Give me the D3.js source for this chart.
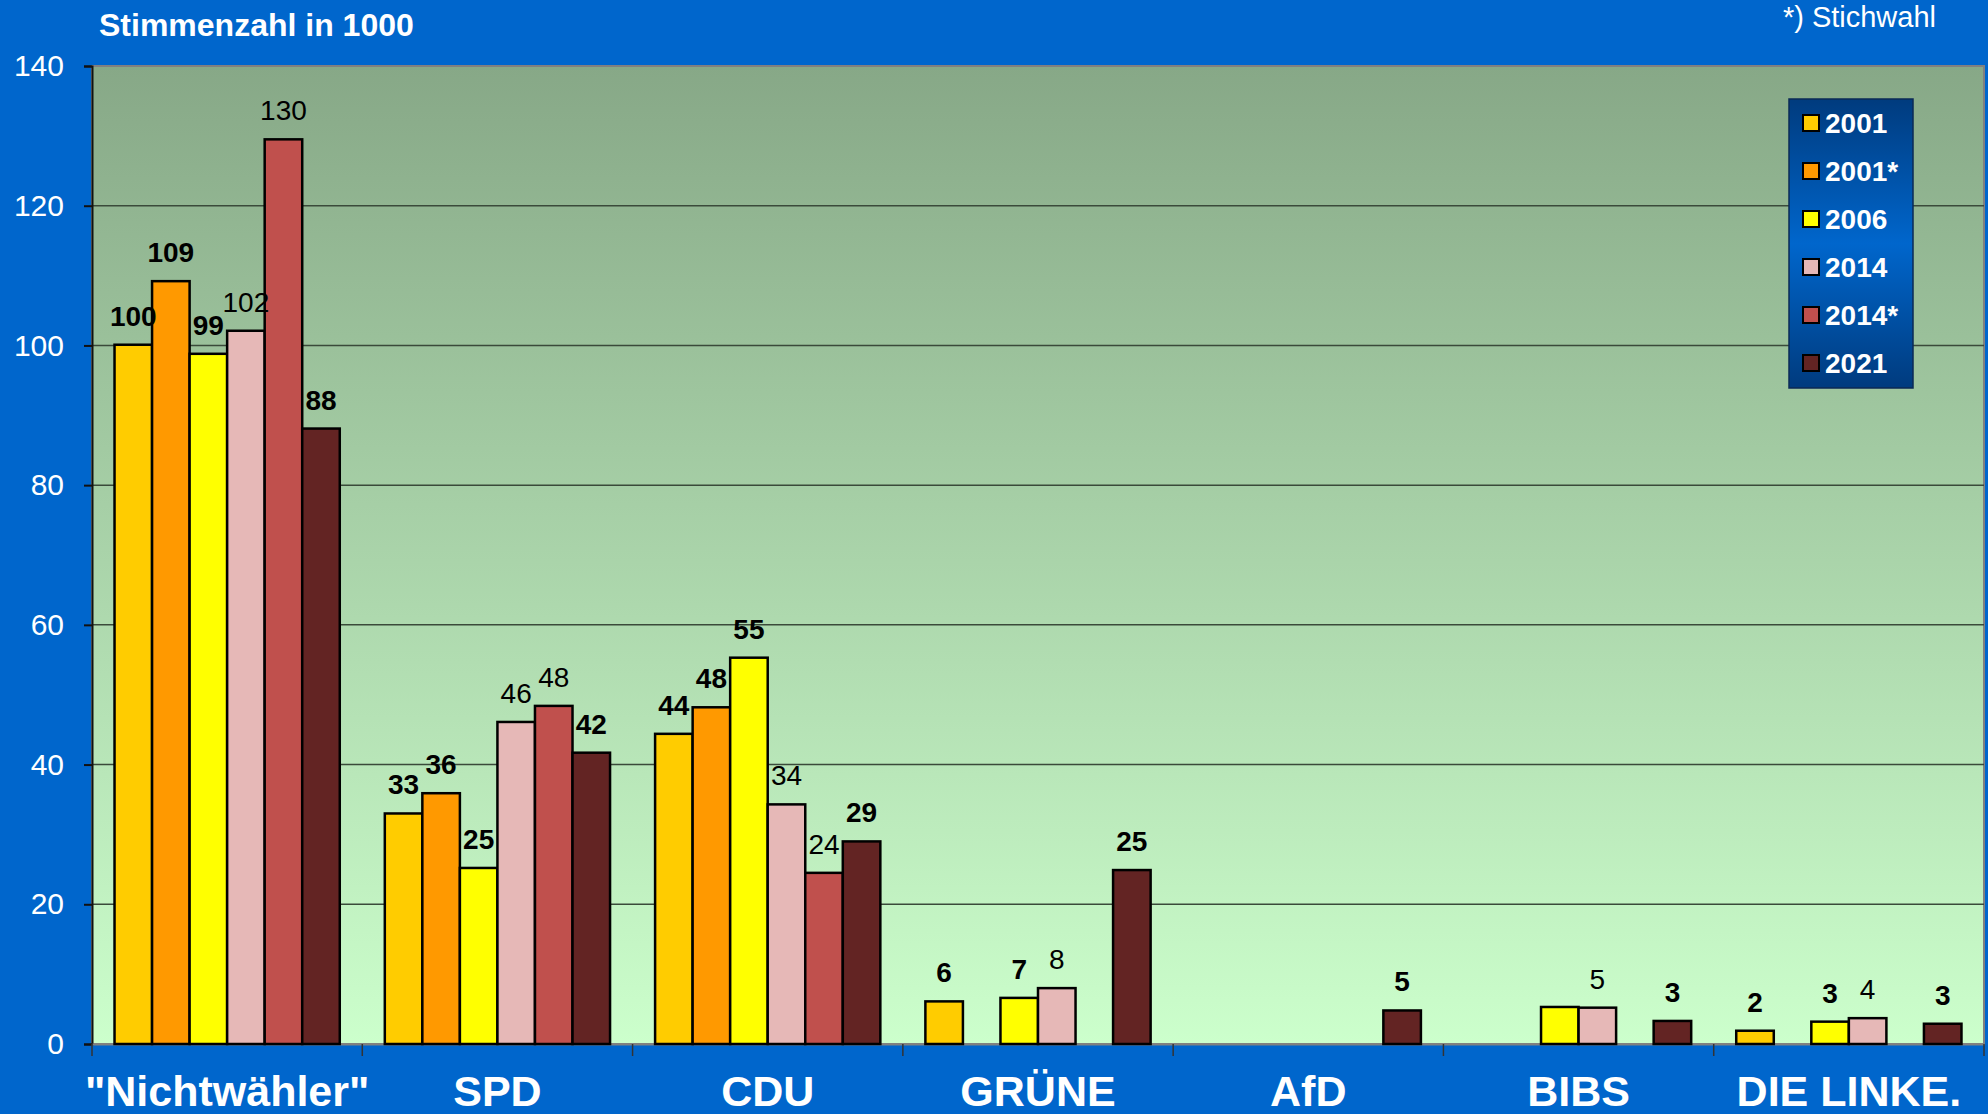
<!DOCTYPE html>
<html>
<head>
<meta charset="utf-8">
<script src="https://cdn.jsdelivr.net/npm/d3@7"></script>
<style>
  html, body { margin: 0; padding: 0; background: #0066cc; }
  svg { display: block; font-family: "Liberation Sans", Arial, sans-serif; }
</style>
</head>
<body>
<svg width="1988" height="1114"></svg>
<script>
var categories = ['"Nichtwähler"', "SPD", "CDU", "GRÜNE", "AfD", "BIBS", "DIE LINKE."];
var series = ["2001", "2001*", "2006", "2014", "2014*", "2021"];
var colors = ["#ffcc00", "#ff9900", "#ffff00", "#e6b8b7", "#c0504d", "#632423"];
var boldLabel = [true, true, true, false, false, true];

// Stimmen in 1000, null = nicht angetreten
var v2001  = [100.1, 33.0, 44.4, 6.1, null, null, 1.9];
var v2001s = [109.2, 35.9, 48.2, null, null, null, null];
var v2006  = [98.8, 25.2, 55.3, 6.6, null, 5.3, 3.2];
var v2014  = [102.1, 46.1, 34.3, 8.0, null, 5.2, 3.7];
var v2014s = [129.5, 48.4, 24.5, null, null, null, null];
var v2021  = [88.1, 41.7, 29.0, 24.9, 4.8, 3.3, 2.9];

var l2001  = ["100", "33", "44", "6", null, null, "2"];
var l2001s = ["109", "36", "48", null, null, null, null];
var l2006  = ["99", "25", "55", "7", null, null, "3"];
var l2014  = ["102", "46", "34", "8", null, "5", "4"];
var l2014s = ["130", "48", "24", null, null, null, null];
var l2021  = ["88", "42", "29", "25", "5", "3", "3"];

var yTicks = [0, 20, 40, 60, 80, 100, 120, 140];

var values = [v2001, v2001s, v2006, v2014, v2014s, v2021];
var labels = [l2001, l2001s, l2006, l2014, l2014s, l2021];

var svg = d3.select("svg");
var plotL = 92, plotR = 1984, plotT = 66, plotB = 1044;

var x0 = d3.scaleBand().domain(categories).range([plotL, plotR]).padding(0);
var x1 = d3.scaleBand().domain(series).range([0, x0.bandwidth()]).paddingInner(0).paddingOuter(0.6);
var y = d3.scaleLinear().domain([0, 140]).range([plotB, plotT]);

var defs = svg.append("defs");
var bg = defs.append("linearGradient").attr("id", "plotbg")
    .attr("x1", 0).attr("y1", 0).attr("x2", 0).attr("y2", 1);
bg.append("stop").attr("offset", "0%").attr("stop-color", "#87a887");
bg.append("stop").attr("offset", "100%").attr("stop-color", "#ccffcc");

var lg = defs.append("linearGradient").attr("id", "legbg")
    .attr("x1", 0).attr("y1", 0).attr("x2", 0).attr("y2", 1);
lg.append("stop").attr("offset", "0%").attr("stop-color", "#003b7e");
lg.append("stop").attr("offset", "50%").attr("stop-color", "#0066cc");
lg.append("stop").attr("offset", "100%").attr("stop-color", "#003b7e");

// plot area
svg.append("rect")
    .attr("x", plotL).attr("y", plotT)
    .attr("width", plotR - plotL).attr("height", plotB - plotT)
    .attr("fill", "url(#plotbg)")
    .attr("stroke", "#808080").attr("stroke-width", 2);

// gridlines
svg.append("g")
    .selectAll("line")
    .data(yTicks.filter(function(d) { return d > 0 && d < 140; }))
    .enter().append("line")
    .attr("x1", plotL).attr("x2", plotR)
    .attr("y1", function(d) { return y(d); })
    .attr("y2", function(d) { return y(d); })
    .attr("stroke", "#3a4a3a").attr("stroke-width", 1.5);

// y axis
var yAxis = svg.append("g")
    .attr("transform", "translate(" + plotL + ",0)")
    .call(d3.axisLeft(y).tickValues(yTicks).tickSize(8).tickPadding(20));
yAxis.select(".domain").attr("stroke", "#111").attr("stroke-width", 2);
yAxis.selectAll(".tick line").attr("stroke", "#111").attr("stroke-width", 2);
yAxis.selectAll(".tick text")
    .attr("fill", "#fff").attr("font-size", 30)
    .style("font-family", "'Liberation Sans', Arial, sans-serif");

// x axis
var xAxis = svg.append("g")
    .attr("transform", "translate(0," + plotB + ")")
    .call(d3.axisBottom(x0).tickSize(0).tickPadding(30));
xAxis.select(".domain").attr("stroke", "#808080").attr("stroke-width", 2);
xAxis.selectAll(".tick text")
    .attr("fill", "#fff").attr("font-size", 43).attr("font-weight", "bold")
    .attr("dy", "0")
    .attr("y", 62)
    .style("font-family", "'Liberation Sans', Arial, sans-serif");

// category boundary ticks
var bounds = categories.map(function(c) { return x0(c); }).concat([plotR]);
svg.append("g")
    .selectAll("line")
    .data(bounds)
    .enter().append("line")
    .attr("x1", function(d) { return d; }).attr("x2", function(d) { return d; })
    .attr("y1", plotB).attr("y2", plotB + 12)
    .attr("stroke", "#333").attr("stroke-width", 1.5);

// bars
var cells = [];
series.forEach(function(s, i) {
    categories.forEach(function(c, j) {
        if (values[i][j] != null) {
            cells.push({ s: s, i: i, c: c, v: values[i][j], label: labels[i][j] });
        }
    });
});

svg.append("g")
    .selectAll("rect")
    .data(cells)
    .enter().append("rect")
    .attr("x", function(d) { return x0(d.c) + x1(d.s); })
    .attr("y", function(d) { return y(d.v); })
    .attr("width", x1.bandwidth())
    .attr("height", function(d) { return y(0) - y(d.v); })
    .attr("fill", function(d) { return colors[d.i]; })
    .attr("stroke", "#000").attr("stroke-width", 2.5);

svg.append("g")
    .selectAll("text")
    .data(cells.filter(function(d) { return d.label != null; }))
    .enter().append("text")
    .attr("x", function(d) { return x0(d.c) + x1(d.s) + x1.bandwidth() / 2; })
    .attr("y", function(d) { return y(d.v) - 19; })
    .attr("text-anchor", "middle")
    .attr("font-size", 28)
    .attr("font-weight", function(d) { return boldLabel[d.i] ? "bold" : "normal"; })
    .attr("fill", "#000")
    .text(function(d) { return d.label; });

// title texts
svg.append("text")
    .attr("x", 99).attr("y", 36)
    .attr("fill", "#fff").attr("font-size", 32).attr("font-weight", "bold")
    .text("Stimmenzahl in 1000");

svg.append("text")
    .attr("x", 1936).attr("y", 27)
    .attr("text-anchor", "end")
    .attr("fill", "#fff").attr("font-size", 29)
    .text("*) Stichwahl");

// legend
var legend = svg.append("g").attr("transform", "translate(1789,99)");
legend.append("rect")
    .attr("width", 124).attr("height", 289)
    .attr("fill", "url(#legbg)")
    .attr("stroke", "#0b2a55").attr("stroke-width", 1.5);

var item = legend.selectAll("g.item")
    .data(series)
    .enter().append("g")
    .attr("class", "item")
    .attr("transform", function(d, i) { return "translate(0," + (24 + i * 48) + ")"; });

item.append("rect")
    .attr("x", 14).attr("y", -8)
    .attr("width", 16).attr("height", 16)
    .attr("fill", function(d, i) { return colors[i]; })
    .attr("stroke", "#000").attr("stroke-width", 2);

item.append("text")
    .attr("x", 36).attr("y", 10)
    .attr("fill", "#fff").attr("font-size", 28).attr("font-weight", "bold")
    .text(function(d) { return d; });
</script>
</body>
</html>
